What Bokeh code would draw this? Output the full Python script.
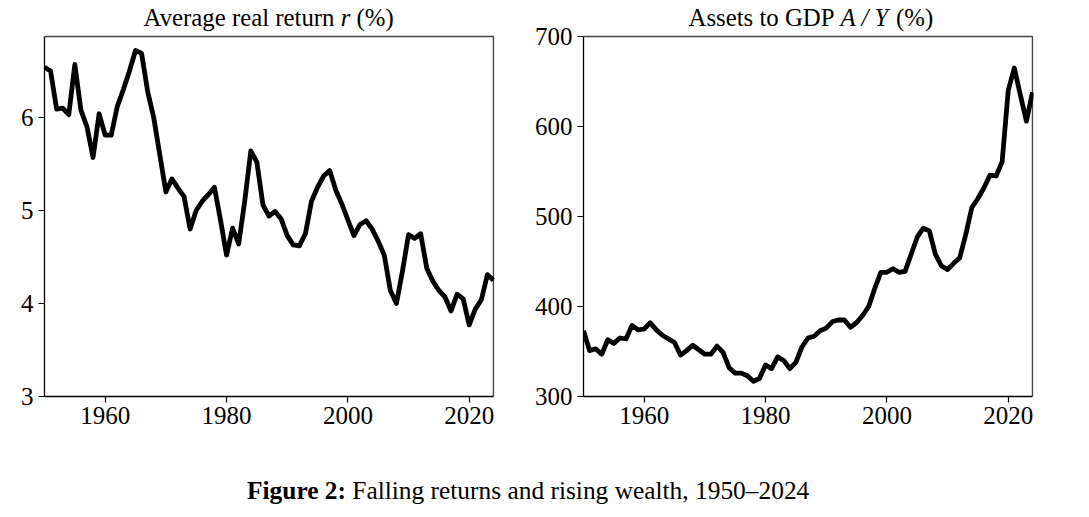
from bokeh.plotting import figure
from bokeh.layouts import column, row
from bokeh.models import Range1d, FixedTicker
from bokeh.core.properties import value
from bokeh.embed import file_html
from bokeh.resources import INLINE

years = list(range(1950, 2025))

real_return = [
    6.54, 6.50, 6.09, 6.10, 6.03, 6.57, 6.08, 5.90, 5.57, 6.04,
    5.81, 5.81, 6.12, 6.30, 6.50, 6.72, 6.69, 6.28, 6.00, 5.60,
    5.20, 5.34, 5.24, 5.15, 4.80, 5.00, 5.10, 5.17, 5.25, 4.90,
    4.52, 4.81, 4.64, 5.10, 5.64, 5.52, 5.06, 4.94, 4.99, 4.91,
    4.73, 4.63, 4.62, 4.75, 5.10, 5.25, 5.37, 5.43, 5.22, 5.07,
    4.90, 4.73, 4.85, 4.89, 4.80, 4.67, 4.52, 4.14, 4.00, 4.35,
    4.74, 4.70, 4.75, 4.38, 4.24, 4.14, 4.07, 3.92, 4.10, 4.05,
    3.77, 3.94, 4.04, 4.31, 4.25,
]

assets_gdp = [
    373, 351, 353, 347, 363, 359, 365, 364, 379, 374,
    375, 382, 374, 368, 364, 360, 346, 351, 357, 352,
    347, 347, 356, 349, 332, 326, 326, 323, 317, 320,
    335, 331, 344, 340, 331, 338, 355, 365, 367, 373,
    376, 383, 385, 385, 377, 382, 390, 400, 420, 438,
    438, 442, 438, 439, 458, 477, 487, 484, 458, 445,
    441, 448, 454, 480, 510, 520, 532, 546, 545, 561,
    640, 665, 635, 606, 638,
]

x_ticks = [1960, 1980, 2000, 2020]
r_ticks = [3, 4, 5, 6]
ay_ticks = [300, 400, 500, 600, 700]

X_LIM = (1950, 2024)
R_LIM = (3, 6.871)
A_LIM = (300, 700)

FONT = "Liberation Serif"
FS = "25px"
TFS = "24.8px"
W = 1089
FRAME_W = 450       # 449 px for the axes box + 1 px so the right edge is not clipped
BOX_H = 360         # height of the visible axes box
TOP_PAD = 36        # room above the box for the panel titles
PX_PER_YEAR = 449 / (X_LIM[1] - X_LIM[0])
X_END = X_LIM[1] + (FRAME_W - 449) / PX_PER_YEAR


def make_panel(lim, yticks, data, border_left, border_right):
    per_px = (lim[1] - lim[0]) / BOX_H
    top = lim[1] + TOP_PAD * per_px
    p = figure(frame_width=FRAME_W, frame_height=BOX_H + TOP_PAD, output_backend="svg",
               toolbar_location=None, title=None,
               x_range=Range1d(X_LIM[0], X_END), y_range=Range1d(lim[0], top),
               min_border_left=border_left, min_border_right=border_right,
               min_border_top=0, min_border_bottom=50)
    p.xaxis.ticker = FixedTicker(ticks=x_ticks)
    p.yaxis.ticker = FixedTicker(ticks=yticks)
    p.xaxis.bounds = X_LIM
    p.yaxis.bounds = lim
    p.grid.visible = False
    for ax in (p.xaxis, p.yaxis):
        ax.axis_line_color = "black"
        ax.axis_line_width = 1.3
        ax.major_tick_line_color = "black"
        ax.major_tick_line_width = 1.2
        ax.major_tick_out = 6
        ax.major_tick_in = 0
        ax.minor_tick_line_color = None
        ax.major_label_text_font = FONT
        ax.major_label_text_font_size = FS
        ax.major_label_text_color = "black"
    p.xaxis.major_label_standoff = 4
    p.yaxis.major_label_standoff = 5
    p.outline_line_color = None
    p.background_fill_color = "white"
    p.border_fill_color = "white"
    # top and right edges of the axes box
    p.line([X_LIM[0], X_LIM[1], X_LIM[1]], [lim[1], lim[1], lim[0]],
           line_color="#444444", line_width=1.5)
    p.line(years, data, line_color="black", line_width=4.8, line_join="round")
    return p, per_px


def title_piece(p, x, y, t, style="normal", align="left"):
    p.text(x=[x], y=[y], text=[t], text_font=value(FONT), text_font_size=TFS,
           text_font_style=style, text_align=align, text_baseline="alphabetic",
           text_color="black")


p1, r_pp = make_panel(R_LIM, r_ticks, real_return, 44, 37)
ty1 = R_LIM[1] + 19 * r_pp
title_piece(p1, 1997.79, ty1, "Average real return", align="right")
title_piece(p1, 1998.82, ty1, "r", style="italic")
title_piece(p1, 2001.42, ty1, "(%)")

p2, a_pp = make_panel(A_LIM, ay_ticks, assets_gdp, 47, 50)
ty2 = A_LIM[1] + 19 * a_pp
title_piece(p2, 1991.37, ty2, "Assets to GDP", align="right")
title_piece(p2, 1992.36, ty2, "A / Y", style="italic")
title_piece(p2, 2001.50, ty2, "(%)")


def strip(h):
    s = figure(width=W, height=h, output_backend="svg", toolbar_location=None, title=None,
               x_range=Range1d(0, W), y_range=Range1d(h, 0),
               min_border_left=0, min_border_right=0, min_border_top=0, min_border_bottom=0)
    s.axis.visible = False
    s.grid.visible = False
    s.outline_line_color = None
    s.background_fill_color = "white"
    s.border_fill_color = "white"
    return s


def txt(s, x, y, t, style="normal", align="left", size=FS):
    s.text(x=[x], y=[y], text=[t], text_font=value(FONT), text_font_size=size,
           text_font_style=style, text_align=align, text_baseline="alphabetic",
           text_color="black")


caption = strip(68)
txt(caption, 345.5, 43.0, "Figure 2:", style="bold", align="right", size="25.4px")
txt(caption, 351.8, 43.0, "Falling returns and rising wealth, 1950\u20132024", size="25.4px")

layout = column(row(p1, p2), caption)

open("out.html", "w").write(file_html(layout, INLINE))
